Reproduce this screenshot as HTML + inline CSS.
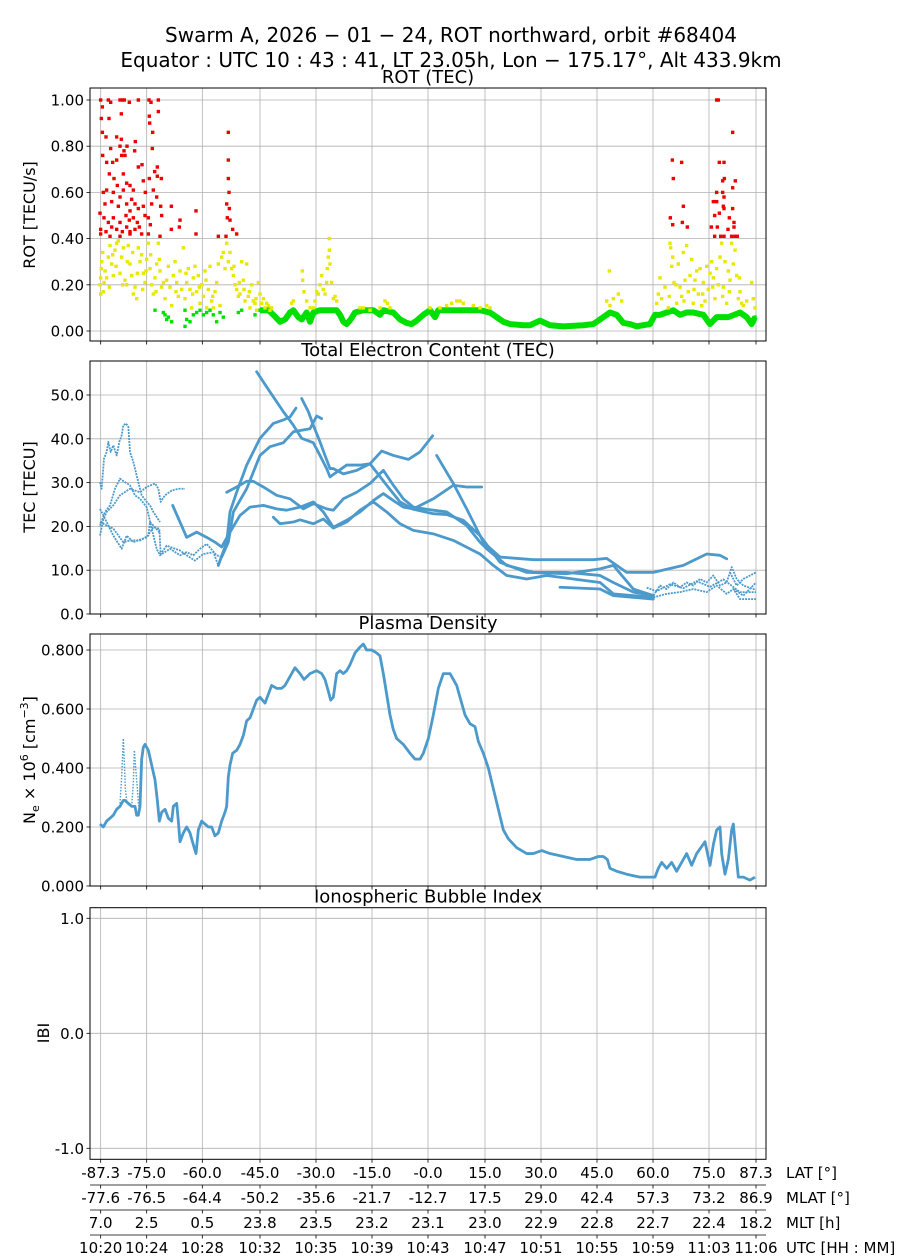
<!DOCTYPE html>
<html><head><meta charset="utf-8"><title>Swarm A ROT</title>
<style>
html,body{margin:0;padding:0;background:#fff;}
svg{display:block;font-family:"DejaVu Sans","Liberation Sans",sans-serif;}
</style></head>
<body>
<svg id="chart" width="900" height="1260" viewBox="0 0 900 1260" xmlns="http://www.w3.org/2000/svg">
<rect x="0" y="0" width="900" height="1260" fill="#fff"/>
<text x="451" y="42" font-size="20" text-anchor="middle">Swarm A,  2026 − 01 − 24,  ROT northward,  orbit #68404</text>
<text x="451" y="67" font-size="20" text-anchor="middle">Equator :  UTC 10 : 43 : 41,  LT 23.05h,  Lon  − 175.17°,  Alt 433.9km</text>
<g id="layer"></g>
</svg>
<script>
// ---------- shared x axis (nominal orbit seconds) ----------
const xTickVals=[62,200,367,540,708,876,1044,1215,1383,1551,1719,1887,2028];
const latLabels=["-87.3","-75.0","-60.0","-45.0","-30.0","-15.0","-0.0","15.0","30.0","45.0","60.0","75.0","87.3"];
const mlatLabels=["-77.6","-76.5","-64.4","-50.2","-35.6","-21.7","-12.7","17.5","29.0","42.4","57.3","73.2","86.9"];
const mltLabels=["7.0","2.5","0.5","23.8","23.5","23.2","23.1","23.0","22.9","22.8","22.7","22.4","18.2"];
const utcLabels=["10:20","10:24","10:28","10:32","10:35","10:39","10:43","10:47","10:51","10:55","10:59","11:03","11:06"];

// ---------- ROT data ----------
const rotRed=[[62,1.0],[67,0.97],[64,0.92],[67,0.86],[85,1.0],[92,0.99],[120,1.0],[127,1.0],[133,1.0],[148,0.99],[175,1.0],[207,1.0],[213,0.99],[235,1.0],[208,0.93],[235,0.95],[209,0.90],[124,0.94],[87,0.92],[110,0.84],[124,0.83],[78,0.84],[68,0.76],[92,0.79],[166,0.82],[141,0.80],[120,0.80],[132,0.78],[125,0.76],[164,0.78],[218,0.86],[217,0.79],[80,0.73],[98,0.73],[110,0.74],[135,0.76],[175,0.71],[186,0.72],[232,0.71],[224,0.69],[88,0.68],[130,0.68],[102,0.66],[112,0.63],[140,0.64],[150,0.63],[160,0.61],[190,0.65],[208,0.66],[232,0.67],[244,0.66],[70,0.60],[80,0.61],[100,0.60],[120,0.58],[130,0.61],[155,0.57],[196,0.60],[220,0.61],[230,0.58],[60,0.51],[75,0.55],[95,0.56],[115,0.54],[140,0.55],[150,0.52],[165,0.55],[175,0.53],[190,0.54],[215,0.55],[242,0.54],[274,0.54],[72,0.49],[85,0.47],[100,0.49],[120,0.47],[138,0.50],[148,0.48],[160,0.49],[172,0.47],[195,0.50],[205,0.49],[245,0.50],[300,0.48],[348,0.52],[62,0.44],[78,0.43],[95,0.45],[110,0.44],[127,0.43],[140,0.45],[150,0.43],[165,0.44],[178,0.45],[211,0.46],[298,0.45],[274,0.44],[62,0.42],[90,0.41],[120,0.41],[150,0.42],[185,0.42],[205,0.42],[240,0.41],[348,0.42],[415,0.41],[438,0.41],[445,0.86],[445,0.74],[445,0.66],[447,0.60],[440,0.55],[448,0.53],[442,0.49],[450,0.48],[458,0.44],[470,0.42],
[1777,0.74],[1805,0.73],[1780,0.66],[1810,0.54],[1771,0.49],[1778,0.46],[1807,0.47],[1822,0.45],[1910,1.0],[1915,1.0],[1958,0.86],[1918,0.73],[1932,0.73],[1933,0.66],[1928,0.65],[1966,0.65],[1958,0.62],[1910,0.60],[1928,0.60],[1932,0.58],[1900,0.56],[1910,0.56],[1930,0.54],[1932,0.53],[1958,0.53],[1904,0.50],[1918,0.51],[1948,0.49],[1962,0.47],[1894,0.45],[1912,0.45],[1944,0.44],[1962,0.45],[1904,0.41],[1922,0.41],[1932,0.41],[1955,0.41],[1965,0.41],[1972,0.41]];
const rotYellow=[[60,0.20],[62,0.23],[65,0.30],[68,0.34],[62,0.16],[70,0.17],[75,0.26],[80,0.23],[85,0.32],[90,0.37],[95,0.29],[100,0.24],[105,0.35],[110,0.38],[115,0.39],[120,0.25],[125,0.32],[130,0.36],[135,0.22],[140,0.20],[145,0.37],[150,0.29],[155,0.24],[160,0.16],[165,0.19],[170,0.14],[175,0.36],[180,0.30],[185,0.33],[190,0.25],[195,0.21],[200,0.31],[205,0.38],[210,0.27],[215,0.20],[220,0.16],[225,0.23],[230,0.29],[235,0.38],[240,0.26],[245,0.19],[250,0.21],[64,0.27],[72,0.21],[88,0.19],[98,0.33],[108,0.28],[128,0.20],[142,0.30],[158,0.34],[172,0.25],[188,0.18],[198,0.26],[212,0.33],[228,0.17],[238,0.31],
[255,0.14],[260,0.22],[265,0.28],[270,0.19],[275,0.11],[280,0.24],[285,0.30],[290,0.21],[295,0.15],[300,0.26],[305,0.18],[310,0.36],[315,0.14],[320,0.21],[325,0.27],[330,0.18],[335,0.10],[340,0.23],[345,0.28],[350,0.17],[355,0.24],[360,0.12],[365,0.20],[370,0.15],[375,0.26],[380,0.10],[385,0.18],[390,0.28],[395,0.13],[400,0.10],[405,0.17],[410,0.21],[415,0.29],[420,0.11],[425,0.32],[430,0.34],[435,0.27],[440,0.38],[445,0.30],[450,0.34],[455,0.27],[460,0.24],[465,0.20],[470,0.18],[475,0.15],[480,0.16],[485,0.30],[490,0.22],[495,0.13],[500,0.29],[505,0.15],[510,0.10],[515,0.20],[520,0.13],[525,0.12],[530,0.09],[535,0.21],[540,0.16],[545,0.12],[550,0.14],[555,0.10],[560,0.12],[565,0.11],[570,0.09],[575,0.10],[288,0.17],[318,0.25],[338,0.16],[358,0.19],[378,0.22],[398,0.15],[462,0.28],[478,0.21],[492,0.18],[508,0.17],[528,0.14],
[667,0.26],[668,0.22],[672,0.17],[680,0.13],[690,0.10],[700,0.10],[705,0.13],[710,0.17],[715,0.16],[720,0.20],[725,0.24],[730,0.18],[735,0.16],[740,0.21],[742,0.27],[745,0.32],[748,0.40],[748,0.35],[750,0.29],[755,0.21],[760,0.14],[765,0.15],[770,0.13],
[635,0.12],[640,0.13],[840,0.10],[850,0.10],[870,0.09],[900,0.10],[915,0.13],[922,0.12],[930,0.10],[1050,0.10],[1080,0.10],[1100,0.11],[1115,0.12],[1130,0.13],[1140,0.13],[1150,0.12],[1180,0.11],[1200,0.10],[1220,0.11],[1230,0.10],
[1580,0.13],[1590,0.11],[1600,0.14],[1615,0.16],[1625,0.13],[1588,0.26],[1730,0.12],[1735,0.16],[1740,0.23],[1745,0.14],[1755,0.19],[1765,0.10],[1770,0.38],[1772,0.36],[1775,0.28],[1778,0.32],[1782,0.21],[1790,0.12],[1795,0.29],[1800,0.19],[1805,0.15],[1810,0.34],[1815,0.22],[1820,0.37],[1825,0.17],[1830,0.24],[1835,0.31],[1840,0.12],[1845,0.22],[1850,0.26],[1855,0.16],[1860,0.27],[1865,0.11],[1870,0.21],[1875,0.13],[1880,0.28],[1885,0.18],[1890,0.25],[1895,0.30],[1900,0.23],[1905,0.14],[1910,0.27],[1915,0.20],[1920,0.32],[1925,0.38],[1930,0.19],[1935,0.30],[1940,0.12],[1945,0.26],[1950,0.22],[1955,0.38],[1960,0.29],[1965,0.35],[1970,0.24],[1975,0.14],[1980,0.17],[1985,0.12],[1990,0.11],[2000,0.13],[2015,0.21],[2020,0.14],[2025,0.10],[1768,0.15],[1788,0.20],[1812,0.13],[1842,0.18],[1868,0.16],[1898,0.19],[1928,0.15],[1948,0.17],[1978,0.23]];
const rotGreenScatter=[[225,0.09],[250,0.08],[260,0.05],[265,0.06],[275,0.04],[315,0.09],[320,0.05],[330,0.04],[315,0.02],[350,0.08],[360,0.09],[380,0.08],[400,0.07],[410,0.04],[430,0.06],[475,0.08],[485,0.09],[525,0.07],[255,0.07],[340,0.07],[370,0.07],[390,0.09],[420,0.08]];
const rotGreenBand=[[540,0.09],[565,0.09],[580,0.07],[600,0.04],[615,0.05],[630,0.08],[640,0.09],[655,0.06],[665,0.05],[680,0.08],[690,0.04],[700,0.08],[720,0.09],[750,0.09],[770,0.09],[780,0.07],[790,0.04],[800,0.03],[812,0.05],[825,0.08],[850,0.09],[880,0.09],[900,0.07],[910,0.09],[940,0.08],[960,0.05],[980,0.035],[995,0.03],[1010,0.045],[1030,0.07],[1050,0.09],[1065,0.06],[1075,0.09],[1100,0.09],[1150,0.09],[1200,0.09],[1230,0.08],[1250,0.06],[1270,0.04],[1290,0.03],[1330,0.025],[1350,0.025],[1380,0.045],[1410,0.025],[1450,0.02],[1510,0.025],[1540,0.03],[1570,0.06],[1590,0.08],[1610,0.07],[1630,0.035],[1650,0.03],[1670,0.02],[1690,0.025],[1710,0.03],[1725,0.07],[1740,0.07],[1760,0.08],[1780,0.09],[1800,0.07],[1820,0.08],[1840,0.08],[1870,0.07],[1890,0.03],[1910,0.06],[1945,0.06],[1980,0.08],[2000,0.06],[2015,0.03],[2025,0.06]];

// ---------- TEC data (arcs) ----------
const tecP=[[415,11.1],[440,16.4],[450,23.3],[470,27.8],[500,34.0],[540,40.1],[580,43.5],[610,44.3],[630,45.0],[648,47.0]];
const tecQ=[[425,13.0],[445,16.4],[460,23.3],[500,28.6],[540,36.2],[570,38.2],[610,39.1],[640,41.6],[690,42.3],[710,45.2],[725,44.6]];
const tecR=[[530,55.3],[570,50.7],[610,46.2],[640,43.1],[665,40.1],[700,39.1],[720,36.2],[740,33.2],[750,31.3],[770,32.4],[800,34.0],[840,34.0],[870,34.3],[920,29.4],[960,25.6],[1000,23.9],[1060,22.9],[1100,22.7],[1150,21.4],[1200,17.9],[1260,11.8],[1340,9.5],[1460,9.2],[1560,10.3],[1600,11.1],[1660,5.7],[1720,4.2]];
const tecS=[[665,49.2],[685,46.2],[700,43.1],[720,39.3],[735,36.2],[750,33.2],[760,33.2],[790,32.0],[830,32.8],[870,34.3],[905,37.2],[940,36.2],[985,35.3],[1020,37.0],[1058,40.7]];
const tecT=[[440,27.8],[470,29.0],[500,30.3],[520,30.3],[550,29.0],[590,27.1],[630,26.3],[670,24.0],[700,25.2],[740,24.0],[760,23.7],[790,26.3],[830,27.8],[870,29.8],[910,32.8],[940,29.4],[970,26.3],[1000,24.4],[1040,23.9],[1100,23.3],[1160,20.2],[1200,16.4],[1220,14.9],[1280,11.1],[1360,9.5],[1460,9.5],[1560,8.8],[1600,7.2],[1660,5.0],[1720,4.2]];
const tecU=[[278,24.8],[300,21.0],[320,17.5],[350,18.7],[380,17.5],[405,16.4],[425,15.3],[450,18.7],[480,22.5],[510,24.4],[550,24.8],[590,24.0],[620,23.7],[660,24.4],[700,25.6],[730,23.3],[760,19.8],[800,21.4],[840,23.3],[880,25.9],[910,27.5],[940,25.9],[970,24.4],[1000,24.0],[1060,26.3],[1120,29.4],[1160,29.0],[1205,29.0]];
const tecV=[[580,22.1],[600,20.6],[640,21.0],[660,21.5],[700,20.6],[730,21.7],[760,19.6],[800,21.0],[840,23.7],[880,25.6],[920,23.3],[960,20.6],[1000,19.1],[1060,18.3],[1120,16.8],[1200,13.7],[1240,11.1],[1280,8.8],[1340,8.0],[1400,8.8],[1480,8.0],[1560,7.2],[1600,4.6],[1660,4.2],[1720,3.8]];
const tecW=[[1070,36.2],[1120,29.8],[1160,24.0],[1210,16.4],[1260,13.0],[1360,12.4],[1540,12.4],[1580,12.7],[1610,11.1],[1640,9.5],[1720,9.5],[1810,11.1],[1880,13.7],[1920,13.4],[1940,12.6]];
const tecX=[[1440,6.1],[1560,5.7],[1600,4.2],[1720,3.4]];
const tecN1=[[1720,4.2],[1740,6.5],[1760,5.7],[1780,7.2],[1800,6.1],[1820,7.2],[1840,6.5],[1860,8.0],[1880,7.2],[1900,8.8],[1920,6.5],[1940,7.2],[1955,10.7],[1970,8.0],[1990,6.5],[2028,5.5]];
const tecN2=[[1720,3.8],[1760,4.6],[1800,5.0],[1840,5.7],[1880,5.0],[1910,6.5],[1940,4.6],[1960,5.7],[1980,3.4],[2028,3.4]];
const tecN3=[[1950,9.5],[1970,6.5],[1990,8.0],[2028,9.5]];
const tecN4=[[1960,5.7],[1990,4.2],[2028,7.2]];
const tecN5=[[1700,6.0],[1730,5.2],[1770,6.8],[1810,5.9],[1850,7.5],[1890,6.2],[1930,7.9],[1980,5.0],[2028,5.0]];
const tecL1=[[60,17.9],[70,21.7],[80,23.3],[100,24.8],[120,27.1],[150,28.6],[180,27.8],[200,29.0],[225,29.8],[235,28.6],[242,25.6],[255,27.1],[275,28.2],[295,28.6],[315,28.6]];
const tecL2=[[60,30.1],[65,28.6],[72,35.5],[80,37.0],[85,39.3],[92,37.0],[100,38.5],[110,36.2],[118,39.3],[125,40.8],[130,43.1],[138,43.5],[145,42.7],[150,37.0],[160,34.7],[175,30.1],[185,27.1],[200,25.6],[210,24.8],[220,23.3],[240,21.0]];
const tecL3=[[60,24.0],[80,21.0],[100,17.9],[125,14.9],[140,17.9],[160,16.4],[200,17.5],[220,19.8],[238,19.5],[242,13.7],[260,15.6],[300,14.5],[320,13.4],[345,12.2],[370,13.7],[400,14.1],[415,11.1]];
const tecL4=[[60,20.2],[75,23.3],[90,24.8],[105,28.6],[120,30.9],[135,30.1],[150,29.4],[165,27.1],[180,26.3],[200,24.4],[215,19.5],[230,14.9],[240,13.4],[270,14.9],[300,13.4],[320,14.1],[340,13.4],[360,14.9],[380,16.0],[410,13.4],[425,13.0]];
const tecL5=[[60,21.0],[80,20.2],[100,19.5],[130,16.4],[150,16.8],[180,16.8],[205,17.9],[210,21.0],[225,19.8],[240,18.5]];

// ---------- Plasma density ----------
const neMain=[[60,0.21],[70,0.20],[80,0.22],[90,0.23],[100,0.24],[110,0.26],[120,0.27],[130,0.29],[135,0.29],[145,0.28],[155,0.27],[165,0.27],[170,0.24],[175,0.24],[180,0.27],[185,0.43],[190,0.47],[195,0.48],[200,0.47],[205,0.46],[215,0.41],[225,0.36],[232,0.29],[238,0.22],[245,0.25],[255,0.26],[265,0.23],[275,0.22],[280,0.27],[290,0.28],[295,0.22],[300,0.15],[310,0.18],[320,0.20],[330,0.18],[340,0.14],[348,0.11],[355,0.19],[365,0.22],[375,0.21],[385,0.20],[395,0.20],[405,0.17],[415,0.18],[425,0.22],[435,0.25],[440,0.27],[445,0.37],[450,0.41],[458,0.45],[470,0.46],[480,0.48],[490,0.51],[500,0.56],[510,0.57],[520,0.60],[530,0.63],[540,0.64],[555,0.62],[565,0.65],[575,0.68],[590,0.67],[605,0.67],[615,0.68],[630,0.71],[645,0.74],[660,0.72],[672,0.70],[690,0.72],[710,0.73],[725,0.72],[735,0.70],[745,0.66],[752,0.63],[760,0.64],[770,0.72],[780,0.73],[790,0.72],[800,0.73],[810,0.75],[825,0.79],[840,0.81],[850,0.82],[860,0.80],[875,0.80],[890,0.79],[900,0.78],[910,0.72],[920,0.65],[930,0.58],[940,0.53],[950,0.50],[970,0.48],[990,0.45],[1005,0.43],[1020,0.43],[1030,0.45],[1045,0.50],[1060,0.58],[1075,0.67],[1090,0.72],[1110,0.72],[1120,0.70],[1130,0.68],[1140,0.64],[1155,0.58],[1170,0.55],[1185,0.54],[1195,0.49],[1210,0.45],[1225,0.40],[1240,0.33],[1255,0.26],[1270,0.19],[1285,0.16],[1310,0.13],[1340,0.11],[1360,0.11],[1385,0.12],[1410,0.11],[1450,0.10],[1490,0.09],[1530,0.09],[1555,0.10],[1570,0.10],[1582,0.09],[1590,0.06],[1610,0.05],[1640,0.04],[1680,0.03],[1710,0.03],[1725,0.03],[1735,0.06],[1745,0.08],[1760,0.06],[1775,0.08],[1790,0.05],[1810,0.09],[1820,0.11],[1835,0.07],[1850,0.11],[1875,0.15],[1890,0.07],[1900,0.14],[1910,0.19],[1920,0.20],[1925,0.11],[1935,0.04],[1945,0.09],[1955,0.19],[1960,0.21],[1968,0.11],[1975,0.03],[1990,0.03],[2010,0.02],[2025,0.03]];
const neSpike1=[[120,0.28],[125,0.37],[128,0.45],[130,0.50],[133,0.42],[136,0.33],[140,0.29]];
const neSpike2=[[155,0.27],[160,0.35],[163,0.46],[167,0.40],[172,0.33],[176,0.27]];

// ---------- IBI (no data) ----------
const ibiVals=[];

// ---------- scales ----------
const AX_L=90, AX_R=766;
function xs(u){ return AX_L + (u-30)*(AX_R-AX_L)/2028; }
const panels={
 rot:{top:88,bot:341,y0:331,k:231},
 tec:{top:361,bot:614,y0:614,k:4.38},
 ne:{top:634,bot:886,y0:886,k:295},
 ibi:{top:907.7,bot:1159.3,y0:1033.3,k:115}
};
function yf(p){ return v => p.y0 - v*p.k; }
const yRot=yf(panels.rot), yTec=yf(panels.tec), yNe=yf(panels.ne), yIbi=yf(panels.ibi);

const NS="http://www.w3.org/2000/svg";
const layer=document.getElementById('layer');
function mk(tag,attrs,parent){const e=document.createElementNS(NS,tag);for(const k in attrs)e.setAttribute(k,attrs[k]);(parent||layer).appendChild(e);return e;}

const rotTicks=[0,0.2,0.4,0.6,0.8,1.0];
const tecTicks=[0,10,20,30,40,50];
const neTicks=[0,0.2,0.4,0.6,0.8];
const ibiTicks=[-1,0,1];

function drawFrame(p,yfun,ticks,fmt,title,nameKey){
  const g=mk('g',{});
  
  
  xTickVals.forEach(u=>{
    const gl=mk('line',{x1:xs(u),x2:xs(u),y1:p.top,y2:p.bot,stroke:'#b0b0b0','stroke-width':0.8},g);
    
    
    const tk=mk('line',{x1:xs(u),x2:xs(u),y1:p.bot,y2:p.bot+3.5,stroke:'#000','stroke-width':0.8},g);
    
    
  });
  ticks.forEach(v=>{
    const y=yfun(v);
    const gl=mk('line',{x1:AX_L,x2:AX_R,y1:y,y2:y,stroke:'#b0b0b0','stroke-width':0.8},g);
    
    
    const tk=mk('line',{x1:AX_L-3.5,x2:AX_L,y1:y,y2:y,stroke:'#000','stroke-width':0.8},g);
    
    
    const t=mk('text',{x:AX_L-6,y:y+5.5,'font-size':15,'text-anchor':'end'},g);
    t.textContent=fmt(v);
    
    
  });
  const tt=mk('text',{x:(AX_L+AX_R)/2,y:p.top-5,'font-size':18,'text-anchor':'middle'},g);
  tt.textContent=title;
  
  
  return g;
}
function drawBorder(p,nameKey){
  const r=mk('rect',{x:AX_L,y:p.top,width:AX_R-AX_L,height:p.bot-p.top,fill:'none',stroke:'#000','stroke-width':1});
  
  
}
function clipFor(p,id){
  const cp=mk('clipPath',{id:id});
  mk('rect',{x:AX_L,y:p.top,width:AX_R-AX_L,height:p.bot-p.top},cp);
  return 'url(#'+id+')';
}

// ---- panel 1 ROT ----
drawFrame(panels.rot,yRot,rotTicks,v=>v.toFixed(2),'ROT (TEC)','rot');
const g1=mk('g',{'clip-path':clipFor(panels.rot,'c1')});
const gb=mk('polyline',{points:rotGreenBand.map(d=>xs(d[0])+','+yRot(d[1])).join(' '),fill:'none',stroke:'#00e000','stroke-width':6,'stroke-linejoin':'round'},g1);


function sq(arr,color,name,g,s){
  arr.forEach(d=>{
    const r=mk('rect',{x:xs(d[0])-s/2,y:yRot(d[1])-s/2,width:s,height:s,fill:color},g);
    
    
  });
}
sq(rotGreenBand,'#00e000','rot-point-low',g1,3.5);
sq(rotGreenScatter,'#00e000','rot-point-low',g1,3.4);
sq(rotYellow,'#e8e800','rot-point-mid',g1,3.4);
sq(rotRed,'#ee0000','rot-point-high',g1,3.4);
drawBorder(panels.rot,'rot');
const yl1=mk('text',{x:0,y:0,'font-size':16,'text-anchor':'middle',transform:'translate(35,215) rotate(-90)'});
yl1.textContent='ROT [TECU/s]';



// ---- panel 2 TEC ----
drawFrame(panels.tec,yTec,tecTicks,v=>v.toFixed(1),'Total Electron Content (TEC)','tec');
const g2=mk('g',{'clip-path':clipFor(panels.tec,'c2')});
const tecSmooth=[tecP,tecQ,tecR,tecS,tecT,tecU,tecV,tecW,tecX];
const tecNoisy=[tecN1,tecN2,tecN3,tecN4,tecN5,tecL1,tecL2,tecL3,tecL4,tecL5];
tecSmooth.forEach(arr=>{
  const l=mk('polyline',{points:arr.map(d=>xs(d[0])+','+yTec(d[1])).join(' '),fill:'none',stroke:'#4b9acb','stroke-width':2.8,'stroke-linejoin':'round','stroke-linecap':'round'},g2);
  
  
});
tecNoisy.forEach(arr=>{
  const l=mk('polyline',{points:arr.map(d=>xs(d[0])+','+yTec(d[1])).join(' '),fill:'none',stroke:'#4b9acb','stroke-width':1.8,'stroke-linejoin':'round','stroke-dasharray':'2 1'},g2);
  
  
});
drawBorder(panels.tec,'tec');
const yl2=mk('text',{x:0,y:0,'font-size':16,'text-anchor':'middle',transform:'translate(35,487) rotate(-90)'});
yl2.textContent='TEC [TECU]';



// ---- panel 3 Ne ----
drawFrame(panels.ne,yNe,neTicks,v=>v.toFixed(3),'Plasma Density','ne');
const g3=mk('g',{'clip-path':clipFor(panels.ne,'c3')});
const neLine=mk('polyline',{points:neMain.map(d=>xs(d[0])+','+yNe(d[1])).join(' '),fill:'none',stroke:'#4b9acb','stroke-width':2.8,'stroke-linejoin':'round'},g3);


[neSpike1,neSpike2].forEach(arr=>{
  const l=mk('polyline',{points:arr.map(d=>xs(d[0])+','+yNe(d[1])).join(' '),fill:'none',stroke:'#4b9acb','stroke-width':1.4,'stroke-dasharray':'1.5 1.5'},g3);
  
  
});
drawBorder(panels.ne,'ne');
const yl3=mk('text',{x:0,y:0,'font-size':16,'text-anchor':'middle',transform:'translate(35,760) rotate(-90)'});


yl3.innerHTML='N<tspan font-size="11" dy="4">e</tspan><tspan dy="-4"> × 10</tspan><tspan font-size="11" dy="-7">6</tspan><tspan dy="7"> [cm</tspan><tspan font-size="11" dy="-7">−3</tspan><tspan dy="7">]</tspan>';

// ---- panel 4 IBI ----
drawFrame(panels.ibi,yIbi,ibiTicks,v=>v.toFixed(1),'Ionospheric Bubble Index','ibi');
ibiVals.forEach(d=>{
  const c=mk('circle',{cx:xs(d[0]),cy:yIbi(d[1]),r:1.5,fill:'#4b9acb'});
  
  
});
drawBorder(panels.ibi,'ibi');
const yl4=mk('text',{x:0,y:0,'font-size':16,'text-anchor':'middle',transform:'translate(49,1033) rotate(-90)'});
yl4.textContent='IBI';



// ---- bottom coordinate table ----
const rows=[[latLabels,'LAT [°]',1178,'lat'],[mlatLabels,'MLAT [°]',1203,'mlat'],[mltLabels,'MLT [h]',1228,'mlt'],[utcLabels,'UTC [HH : MM]',1253,'utc']];
rows.forEach((r,i)=>{
  r[0].forEach((lab,j)=>{
    const t=mk('text',{x:xs(xTickVals[j]),y:r[2],'font-size':15,'text-anchor':'middle'});
    t.textContent=lab;
    
    
  });
  const rl=mk('text',{x:786,y:r[2],'font-size':15});
  rl.textContent=r[1];
  
  
  if(i>0){
    const ly=r[2]-18;
    const sp=mk('line',{x1:AX_L,x2:AX_R,y1:ly,y2:ly,stroke:'#000','stroke-width':0.8});
    
    
    xTickVals.forEach(u=>{
      const tk=mk('line',{x1:xs(u),x2:xs(u),y1:ly,y2:ly+3.5,stroke:'#000','stroke-width':0.8});
      
      
    });
  }
});
</script>
</body></html>
